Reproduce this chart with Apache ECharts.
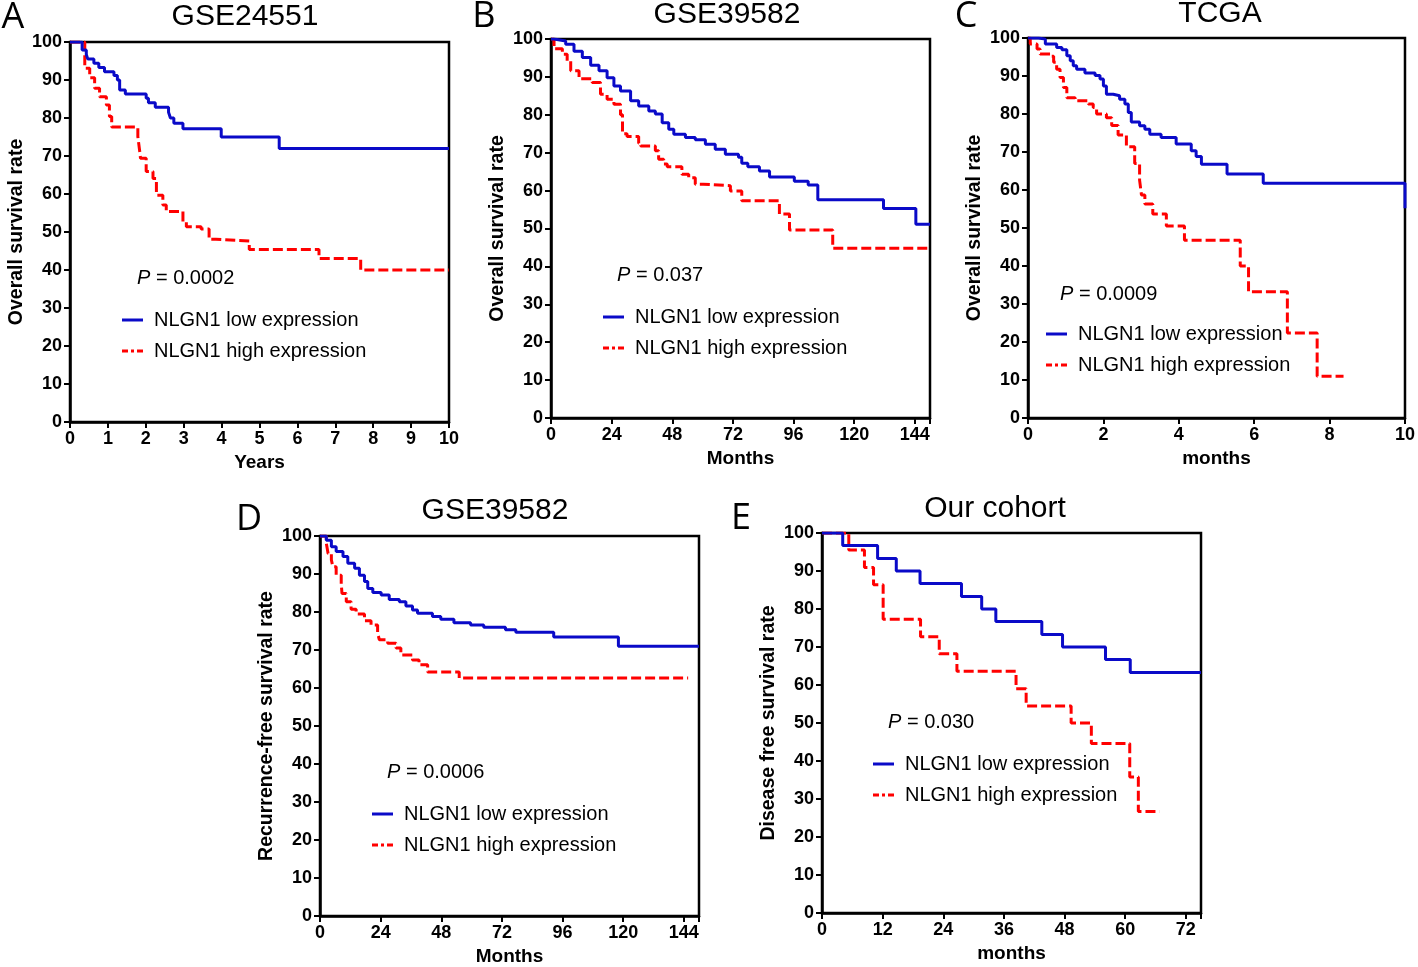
<!DOCTYPE html>
<html>
<head>
<meta charset="utf-8">
<script src="https://cdn.jsdelivr.net/npm/echarts@6/dist/echarts.min.js"></script>
<style>
html,body{margin:0;padding:0;background:#fff;}
#main{width:1418px;height:967px;}
</style>
</head>
<body>
<div id="main"></div>
<script>
// ---- Data ----
const lowName = 'NLGN1 low expression';
const highName = 'NLGN1 high expression';

const panelTitles = ['GSE24551', 'GSE39582', 'TCGA', 'GSE39582', 'Our cohort'];
const panelLetters = ['A', 'B', 'C', 'D', 'E'];
const pValues = ['0.0002', '0.037', '0.0009', '0.0006', '0.030'];
const xNames = ['Years', 'Months', 'months', 'Months', 'months'];
const yNames = ['Overall survival rate', 'Overall survival rate', 'Overall survival rate',
                'Recurrence-free survival rate', 'Disease free survival rate'];
const xMax = [10, 150, 10, 150, 75];
const xInterval = [1, 24, 2, 24, 12];

const aLow = [[0,100],[0.32,97.9],[0.43,96.7],[0.47,95.5],[0.63,94.4],[0.76,93.3],[0.91,92.2],[1.16,91.2],[1.25,90],[1.31,87.4],[1.46,86.3],[2.01,85.2],[2.07,84],[2.25,82.8],[2.6,81.5],[2.65,80],[2.74,78.6],[2.98,77.2],[3.99,75],[5.52,72],[10,72]];
const aHigh = [[0,100],[0.39,93.1],[0.52,90.6],[0.65,87.8],[0.78,85.6],[0.96,83.4],[1.04,80.4],[1.1,77.6],[1.79,75.1],[1.84,71.2],[1.86,69.4],[2.01,65.9],[2.19,64.1],[2.28,59.7],[2.45,57.1],[2.54,55.4],[2.98,52.7],[3.07,51.4],[3.46,50.8],[3.67,48.1],[3.85,47.6],[4.73,45.4],[6.57,43],[7.67,40],[10,40]];

const bLow = [[0,100],[1.2,99.5],[5.8,98.6],[9.1,96.8],[12.4,95.1],[15.7,93.1],[19,91.6],[22.2,89.8],[24.9,87.6],[27.5,86.3],[31.5,83.7],[34.7,82.3],[38.7,81],[41.3,80.2],[44,77.9],[46.6,76.2],[48.6,74.9],[53.2,74],[57.1,73.4],[61.1,72.2],[65,70.9],[69,69.6],[74.2,68.8],[75.5,67.2],[77.9,66.3],[82.5,65.2],[86.5,63.6],[96.3,62.5],[101.8,61.5],[105.6,57.6],[131.6,55.3],[144.4,51.1],[150,51.1]];
const bHigh = [[0,100],[1.2,97.4],[4.5,96],[6.4,94.2],[7.8,91.6],[11.1,89.5],[16.3,88.5],[19.6,85.4],[22.2,84.1],[24.9,82.8],[27.5,80],[28.3,75],[30.1,74.3],[34.7,72.5],[35.5,71.8],[41.3,70.5],[42.6,68.3],[44.6,67],[46,66.3],[51.8,64.3],[54.5,63.4],[57.1,61.7],[60.2,61.3],[71,59.9],[75.5,57.3],[90.4,53.8],[94.4,49.6],[111.5,44.8],[150,44.8]];

const cLow = [[0,100],[0.28,99.7],[0.46,98.4],[0.76,97.5],[0.9,96.9],[1.03,95.3],[1.12,94],[1.2,92.7],[1.29,91.8],[1.51,90.8],[1.78,90.1],[1.91,89.2],[2.0,87.4],[2.08,85.2],[2.26,84.8],[2.43,83.9],[2.57,82.6],[2.66,80.4],[2.74,77.9],[2.96,76.9],[3.1,76],[3.23,74.7],[3.53,73.8],[3.93,72.1],[4.33,70.3],[4.46,68.8],[4.6,66.8],[5.28,64.2],[6.24,61.8],[10,55.2]];
const cHigh = [[0,100],[0.06,98.4],[0.24,97.1],[0.32,95.8],[0.59,95.2],[0.68,93.6],[0.76,91.8],[0.85,89.6],[0.94,87],[1.03,84.3],[1.25,83.5],[1.6,82.6],[1.73,81.7],[1.82,80],[2.08,79],[2.22,77],[2.39,74.5],[2.61,71.4],[2.83,67],[2.96,62.6],[3.01,58.7],[3.1,56.3],[3.31,53.7],[3.67,50.5],[4.15,46.8],[5.63,40],[5.85,33.2],[6.88,22.4],[7.67,11],[8.37,11]];

const dLow = [[0,100],[2.5,98.9],[4.5,97.2],[6.4,95.9],[9.1,94.6],[11,92.8],[13.7,91.5],[15.6,89.7],[17.6,88],[18.9,86.2],[20.9,85.1],[24.2,84.5],[27.4,83.3],[31.4,82.7],[34,81.6],[36.6,80.5],[38.6,79.7],[44.5,78.8],[47.8,78.1],[53,77.2],[59.6,76.6],[64.8,76],[73.4,75.3],[77.5,74.7],[92.5,73.4],[118.1,71],[150,71]];
const dHigh = [[0,100],[2.5,98.1],[3.2,95.4],[4.5,93.7],[5.1,91.9],[6.4,89.7],[8.4,87.5],[8.7,84.9],[10.4,82.7],[12.3,80.7],[14.3,79.5],[17.6,77.7],[20.2,76.6],[22.8,74.4],[23.5,72.7],[26.8,71.8],[30.1,70.5],[32,68.7],[36.6,67.4],[39.2,66.1],[42.6,64.2],[55.1,62.6],[145.7,62.6]];

const eLow = [[0,100],[4.1,96.7],[11,93.3],[14.7,90],[19.4,86.7],[27.6,83.3],[31.6,80],[34.4,76.7],[43.5,73.3],[47.6,70],[56.1,66.7],[61,63.3],[75,63.3]];
const eHigh = [[0,100],[5.3,95.5],[8.4,90.9],[10.2,86.4],[12.1,77.3],[19.5,72.7],[23.2,68.2],[26.7,63.6],[38.4,59],[40.4,54.5],[49.3,50],[53.3,44.6],[60.9,35.8],[62.6,26.7],[66.8,26.7]];

const lowSets = [aLow, bLow, cLow, dLow, eLow];
const highSets = [aHigh, bHigh, cHigh, dHigh, eHigh];

// ---- Layout (pixels) ----
const grids = [
  {left: 70, top: 42, width: 379, height: 380},
  {left: 551, top: 39, width: 379, height: 379},
  {left: 1028, top: 38, width: 379, height: 380},
  {left: 320, top: 536, width: 379, height: 380},
  {left: 822, top: 533, width: 379, height: 380}
];
const titlePos = [[245, 17], [727, 15], [1220, 14], [495, 511], [995, 508.5]];
const letterPos = [[13, 18], [484, 17], [966, 17], [249, 520], [741, 519]];
const pPos = [[137, 278], [617, 275], [1060, 294.5], [387, 772.5], [888, 722.5]];
const legendPos = [[122, 310], [603, 307], [1046, 324], [372, 804], [873, 754]];

const FONT = '"Liberation Sans", Arial, Helvetica, sans-serif';
const BLUE = '#0a0ac8';
const RED = '#ff0000';
const ICON_SOLID = 'path://M0,0H21V3H0Z';
const ICON_DASH = 'path://M0,0H6V3H0Z M9,0H12V3H9Z M15,0H21V3H15Z';

const option = {
  animation: false,
  backgroundColor: '#fff',
  grid: [], xAxis: [], yAxis: [], series: [], legend: [], graphic: []
};

for (let i = 0; i < 5; i++) {
  option.grid.push(Object.assign({show: true, borderColor: '#000', borderWidth: 2.5, backgroundColor: 'transparent', containLabel: false}, grids[i]));
  option.xAxis.push({
    type: 'value', gridIndex: i, min: 0, max: xMax[i], interval: xInterval[i],
    name: xNames[i], nameLocation: 'middle', nameGap: 31,
    nameTextStyle: {fontFamily: FONT, fontWeight: 'bold', fontSize: 19, color: '#000'},
    axisLine: {show: true, onZero: false, lineStyle: {color: '#000', width: 2.5}},
    axisTick: {show: true, length: 6, lineStyle: {color: '#000', width: 2}},
    axisLabel: {fontFamily: FONT, fontWeight: 'bold', fontSize: 18, color: '#000', margin: 8,
      formatter: (v) => (v % xInterval[i] === 0 ? String(v) : '')},
    splitLine: {show: false}
  });
  option.yAxis.push({
    type: 'value', gridIndex: i, min: 0, max: 100, interval: 10,
    name: yNames[i], nameLocation: 'middle', nameGap: 43,
    nameTextStyle: {fontFamily: FONT, fontWeight: 'bold', fontSize: 19.5, color: '#000'},
    axisLine: {show: true, onZero: false, lineStyle: {color: '#000', width: 2.5}},
    axisTick: {show: true, length: 6, lineStyle: {color: '#000', width: 2}},
    axisLabel: {fontFamily: FONT, fontWeight: 'bold', fontSize: 18, color: '#000', margin: 8},
    splitLine: {show: false}
  });
  option.series.push({
    type: 'line', name: highName, xAxisIndex: i, yAxisIndex: i, step: 'end',
    data: highSets[i], symbol: 'none', showSymbol: false,
    lineStyle: {color: RED, width: 3, type: [10, 4]}, itemStyle: {color: RED}, z: 3
  });
  option.series.push({
    type: 'line', name: lowName, xAxisIndex: i, yAxisIndex: i, step: 'end',
    data: lowSets[i], symbol: 'none', showSymbol: false,
    lineStyle: {color: BLUE, width: 3}, itemStyle: {color: BLUE}, z: 4
  });
  option.legend.push({
    left: legendPos[i][0], top: legendPos[i][1], orient: 'vertical', padding: 0,
    itemWidth: 21, itemHeight: 3, itemGap: 11, selectedMode: false,
    data: [{name: lowName, icon: ICON_SOLID}, {name: highName, icon: ICON_DASH}],
    textStyle: {fontFamily: FONT, fontSize: 20, color: '#000', padding: [0, 0, 0, 6], lineHeight: 20}
  });
  option.graphic.push({
    type: 'text', x: titlePos[i][0], y: titlePos[i][1],
    style: {text: panelTitles[i], font: '30px ' + FONT, fill: '#000', align: 'center', verticalAlign: 'middle'}
  });
  option.graphic.push({
    type: 'text', x: letterPos[i][0], y: letterPos[i][1],
    style: {text: panelLetters[i], font: '36px "Open Sans", sans-serif', fill: '#000', align: 'center', verticalAlign: 'middle'}
  });
  option.graphic.push({
    type: 'text', x: pPos[i][0], y: pPos[i][1],
    style: {
      text: '{i|P} = ' + pValues[i],
      font: '20px ' + FONT, fill: '#000', align: 'left', verticalAlign: 'middle',
      rich: {i: {fontStyle: 'italic', fontFamily: FONT, fontSize: 20, fill: '#000'}}
    }
  });
}

const chart = echarts.init(document.getElementById('main'), null, {renderer: 'canvas'});
chart.setOption(option);
</script>
</body>
</html>
